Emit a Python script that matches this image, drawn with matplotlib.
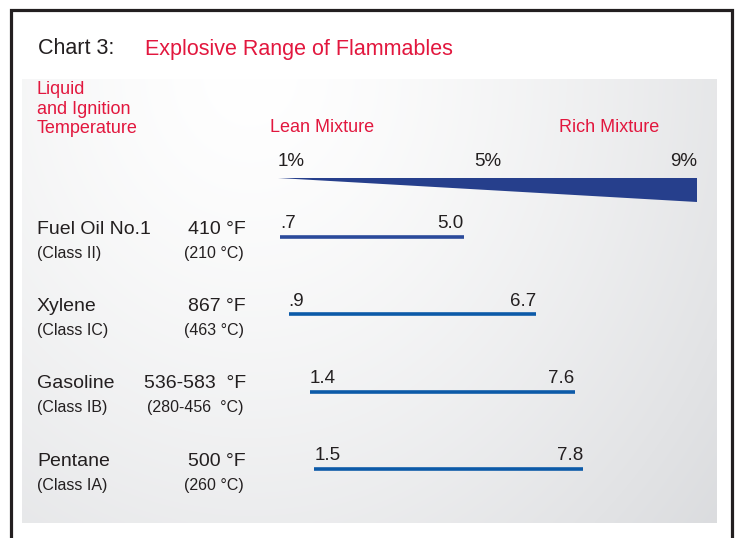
import numpy as np
import matplotlib
matplotlib.use("Agg")
import matplotlib.pyplot as plt
from matplotlib.transforms import blended_transform_factory

plt.rcParams['font.family'] = ['Liberation Sans', 'DejaVu Sans']

# data
liquids = ["Fuel Oil No.1", "Xylene", "Gasoline", "Pentane"]
classes = ["(Class II)", "(Class IC)", "(Class IB)", "(Class IA)"]
temp_f = ["410 °F", "867 °F", "536-583  °F", "500 °F"]
temp_c = ["(210 °C)", "(463 °C)", "(280-456  °C)", "(260 °C)"]
lower = [0.7, 0.9, 1.4, 1.5]
upper = [5.0, 6.7, 7.6, 7.8]
scale_ticks = [1, 5, 9]

RED = "#e2173e"
DARK = "#231f20"
NAVY = "#263f8c"
bar_colors = ["#2b4a9b", "#0c5aa8", "#0c5aa8", "#0c5aa8"]

W, H = 737, 538
fig = plt.figure(figsize=(W / 100, H / 100), dpi=100)

# background layer in pixel coordinates
bg = fig.add_axes([0, 0, 1, 1])
bg.set_xlim(0, W)
bg.set_ylim(H, 0)
bg.axis('off')

# grey gradient panel
gx = np.linspace(22, 717, 300)
gy = np.linspace(79, 523, 200)
X, Y = np.meshgrid(gx, gy)
t = np.sqrt(((X - 250) / 620) ** 2 + ((Y - 70) / 720) ** 2)
t = np.clip(t, 0, 1) ** 1.4
white = np.array([1.0, 1.0, 1.0])
grey = np.array([0.855, 0.86, 0.87])
img = white[None, None, :] * (1 - t[..., None]) + grey[None, None, :] * t[..., None]
bg.imshow(img, extent=[22, 717, 523, 79], aspect='auto', interpolation='bilinear', zorder=0)

# frame (open at the bottom)
bg.plot([11, 11, 732, 732], [H, 10, 10, H], color=DARK, lw=2.3,
        solid_joinstyle='miter', zorder=1)

# titles
bg.text(38, 49, "Chart 3:", color=DARK, fontsize=15.5, va='center')
bg.text(145, 49, "Explosive Range of Flammables", color=RED, fontsize=15.5, va='center')
bg.text(37, 109, "Liquid\nand Ignition\nTemperature", color=RED, fontsize=13,
        va='center', linespacing=1.2)
bg.text(270, 128, "Lean Mixture", color=RED, fontsize=13, va='center')
bg.text(559, 128, "Rich Mixture", color=RED, fontsize=13, va='center')

# wedge scale 1% .. 9%
wx0, wx1, wy0, wy1 = 278, 697, 178, 202
wax = fig.add_axes([wx0 / W, 1 - wy1 / H, (wx1 - wx0) / W, (wy1 - wy0) / H])
wax.set_xlim(scale_ticks[0], scale_ticks[-1])
wax.set_ylim(0, 1)
wax.axis('off')
wax.fill([scale_ticks[0], scale_ticks[-1], scale_ticks[-1]], [1, 1, 0],
         color=NAVY, lw=0)
for v, ha in zip(scale_ticks, ['left', 'center', 'right']):
    wax.text(v, 1.67, f"{v}%", ha=ha, va='center', color=DARK, fontsize=13.5,
             clip_on=False)

# range bars, percent on a linear x axis
px0, px_per = 250.2, 42.7
xmin, xmax = 0, 10
y_top, y_bot = 198.3, 507.7
ax = fig.add_axes([px0 / W, 1 - y_bot / H, (xmax - xmin) * px_per / W, (y_bot - y_top) / H])
ax.set_xlim(xmin, xmax)
ax.set_ylim(len(liquids) - 0.5, -0.5)
ax.axis('off')

rows = np.arange(len(liquids))
ax.hlines(rows, lower, upper, colors=bar_colors, lw=2.6)


def fmt(v):
    return f"{v:.1f}".lstrip('0')


for r, lo, hi in zip(rows, lower, upper):
    ax.text(lo, r - 0.06, fmt(lo), ha='left', va='bottom', color=DARK, fontsize=13.5)
    ax.text(hi, r - 0.06, fmt(hi), ha='right', va='bottom', color=DARK, fontsize=13.5)

# row labels: x in pixels, y in row units
tr = blended_transform_factory(bg.transData, ax.transData)
for r in rows:
    ax.text(37, r - 0.1, liquids[r], transform=tr, ha='left', va='center',
            color=DARK, fontsize=14, clip_on=False)
    ax.text(37, r + 0.21, classes[r], transform=tr, ha='left', va='center',
            color=DARK, fontsize=11.5, clip_on=False)
    ax.text(246, r - 0.1, temp_f[r], transform=tr, ha='right', va='center',
            color=DARK, fontsize=14, clip_on=False)
    ax.text(244, r + 0.21, temp_c[r], transform=tr, ha='right', va='center',
            color=DARK, fontsize=11.5, clip_on=False)

fig.savefig("out.png", dpi=100)
